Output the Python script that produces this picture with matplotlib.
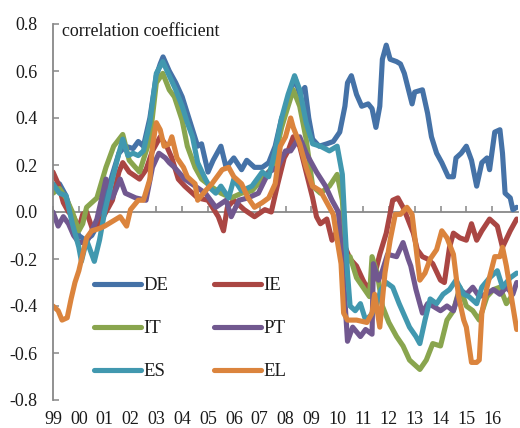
import numpy as np
import matplotlib
matplotlib.use("Agg")
import matplotlib.pyplot as plt

plt.rcParams['font.family'] = ['Liberation Serif', 'DejaVu Serif']

# ---- data (decimal year, correlation coefficient) ----
de_t = [1999.0, 1999.25, 1999.5, 1999.75, 2000.0, 2000.25, 2000.5, 2000.75, 2001.0, 2001.3, 2001.55, 2001.8,
        2002.1, 2002.3, 2002.5, 2002.75, 2003.0, 2003.15, 2003.26, 2003.5, 2003.75, 2004.0, 2004.2, 2004.4,
        2004.6, 2004.75, 2005.0, 2005.2, 2005.5, 2005.7, 2006.0, 2006.3, 2006.5, 2006.8, 2007.1, 2007.35,
        2007.6, 2007.85, 2008.0, 2008.2, 2008.37, 2008.55, 2008.75, 2008.9, 2009.05, 2009.3, 2009.6, 2009.85,
        2010.1, 2010.3, 2010.4, 2010.55, 2010.75, 2010.95, 2011.2, 2011.35, 2011.5, 2011.65, 2011.75, 2011.9,
        2012.05, 2012.3, 2012.45, 2012.6, 2012.9, 2013.0, 2013.3, 2013.5, 2013.65, 2013.85, 2014.05, 2014.3,
        2014.5, 2014.6, 2014.8, 2015.0, 2015.2, 2015.4, 2015.6, 2015.8, 2015.9, 2016.1, 2016.3, 2016.4,
        2016.5, 2016.7, 2016.8, 2016.95]
de_v = [0.10, 0.12, 0.07, -0.02, -0.10, -0.12, -0.10, -0.05, 0.05, 0.16, 0.25, 0.28,
        0.27, 0.30, 0.28, 0.40, 0.58, 0.63, 0.66, 0.60, 0.55, 0.49, 0.42, 0.35,
        0.28, 0.29, 0.17, 0.22, 0.28, 0.19, 0.23, 0.18, 0.22, 0.19, 0.19, 0.21,
        0.28, 0.40, 0.43, 0.52, 0.57, 0.50, 0.53, 0.40, 0.31, 0.28, 0.29, 0.30,
        0.34, 0.45, 0.55, 0.58, 0.50, 0.45, 0.46, 0.44, 0.36, 0.45, 0.65, 0.71,
        0.65, 0.64, 0.63, 0.59, 0.46, 0.51, 0.52, 0.42, 0.32, 0.25, 0.21, 0.15,
        0.15, 0.23, 0.25, 0.28, 0.22, 0.11, 0.21, 0.23, 0.18, 0.34, 0.35, 0.25,
        0.08, 0.06, 0.01, 0.02]

ie_t = [1999.0, 1999.2, 1999.4, 1999.6, 1999.8, 2000.0, 2000.15, 2000.3, 2000.55, 2000.9, 2001.3, 2001.55,
        2001.7, 2001.95, 2002.35, 2002.6, 2002.85, 2003.15, 2003.4, 2003.6, 2003.85, 2004.1, 2004.4, 2004.6,
        2005.0, 2005.4, 2005.6, 2005.75, 2006.0, 2006.4, 2006.8, 2007.2, 2007.45, 2007.7, 2007.95, 2008.1,
        2008.3, 2008.55, 2008.8, 2009.05, 2009.2, 2009.35, 2009.6, 2009.8, 2010.0, 2010.2, 2010.5, 2010.75,
        2011.0, 2011.15, 2011.4, 2011.65, 2011.9, 2012.15, 2012.35, 2012.55, 2012.7, 2012.95, 2013.1, 2013.3,
        2013.5, 2013.7, 2014.0, 2014.15, 2014.35, 2014.5, 2014.75, 2015.0, 2015.2, 2015.4, 2015.6, 2015.9,
        2016.2, 2016.4, 2016.7, 2016.95]
ie_v = [0.17, 0.12, 0.04, 0.00, -0.02, -0.07, -0.01, 0.00, -0.08, -0.03, 0.05, 0.17,
        0.21, 0.17, 0.14, 0.18, 0.26, 0.32, 0.28, 0.23, 0.14, 0.11, 0.08, 0.06,
        0.05, -0.02, -0.08, 0.02, 0.05, 0.01, -0.02, 0.01, 0.00, 0.12, 0.23, 0.26,
        0.32, 0.28, 0.17, 0.06, -0.02, -0.05, -0.03, -0.12, -0.08, -0.12, -0.20, -0.23,
        -0.29, -0.32, -0.29, -0.18, -0.09, 0.05, 0.06, 0.02, -0.02, -0.09, -0.16, -0.19,
        -0.20, -0.22, -0.29, -0.30, -0.15, -0.09, -0.11, -0.12, -0.05, -0.12, -0.08, -0.03,
        -0.06, -0.15, -0.08, -0.03]

it_t = [1999.0, 1999.25, 1999.5, 1999.75, 2000.0, 2000.15, 2000.3, 2000.5, 2000.7, 2001.05, 2001.35, 2001.7,
        2001.95, 2002.35, 2002.75, 2003.0, 2003.25, 2003.5, 2003.7, 2004.0, 2004.2, 2004.5, 2004.75, 2005.1,
        2005.5, 2005.9, 2006.3, 2006.7, 2007.1, 2007.5, 2007.85, 2008.1, 2008.3, 2008.55, 2008.8, 2009.05,
        2009.35, 2009.7, 2010.0, 2010.2, 2010.35, 2010.5, 2010.75, 2011.0, 2011.25, 2011.35, 2011.55, 2011.75,
        2012.0, 2012.3, 2012.55, 2012.8, 2013.2, 2013.45, 2013.7, 2014.0, 2014.25, 2014.5, 2014.75, 2015.0,
        2015.25, 2015.5, 2015.8, 2016.05, 2016.3, 2016.55, 2016.75]
it_v = [0.08, 0.10, 0.06, 0.00, -0.08, -0.05, 0.02, 0.04, 0.06, 0.19, 0.28, 0.33,
        0.22, 0.17, 0.31, 0.55, 0.59, 0.52, 0.49, 0.39, 0.28, 0.19, 0.14, 0.11,
        0.08, 0.06, 0.08, 0.09, 0.14, 0.19, 0.36, 0.45, 0.52, 0.45, 0.31, 0.11,
        0.08, 0.11, 0.16, 0.05, -0.22, -0.19, -0.28, -0.32, -0.36, -0.19, -0.26, -0.40,
        -0.47, -0.53, -0.57, -0.63, -0.67, -0.63, -0.56, -0.57, -0.46, -0.42, -0.32, -0.40,
        -0.42, -0.46, -0.36, -0.33, -0.32, -0.39, -0.36]

pt_t = [1999.0, 1999.2, 1999.4, 1999.6, 1999.8, 2000.0, 2000.3, 2000.5, 2000.7, 2000.95, 2001.05, 2001.3,
        2001.6, 2001.8, 2002.2, 2002.6, 2002.85, 2003.1, 2003.35, 2003.5, 2003.7, 2004.1, 2004.5, 2004.9,
        2005.3, 2005.7, 2005.9, 2006.2, 2006.55, 2006.95, 2007.35, 2007.7, 2008.0, 2008.2, 2008.55, 2008.8,
        2009.2, 2009.55, 2009.8, 2010.05, 2010.1, 2010.25, 2010.4, 2010.6, 2010.9, 2011.1, 2011.35, 2011.4,
        2011.6, 2011.75, 2011.95, 2012.3, 2012.55, 2012.75, 2012.85, 2013.05, 2013.3, 2013.5, 2013.7, 2014.0,
        2014.25, 2014.5, 2014.75, 2015.0, 2015.25, 2015.5, 2015.75, 2016.05, 2016.3, 2016.55, 2016.8, 2016.95]
pt_v = [0.00, -0.06, -0.02, -0.05, -0.10, -0.13, -0.13, -0.08, -0.03, 0.09, 0.14, 0.06,
        0.14, 0.08, 0.06, 0.05, 0.19, 0.25, 0.23, 0.21, 0.19, 0.14, 0.11, 0.08,
        0.02, 0.05, -0.02, 0.05, 0.06, 0.08, 0.17, 0.19, 0.26, 0.26, 0.32, 0.25,
        0.17, 0.11, 0.05, 0.00, -0.08, -0.29, -0.55, -0.49, -0.53, -0.50, -0.52, -0.22,
        -0.29, -0.25, -0.18, -0.19, -0.13, -0.20, -0.23, -0.33, -0.43, -0.39, -0.40, -0.42,
        -0.40, -0.42, -0.33, -0.35, -0.32, -0.36, -0.35, -0.33, -0.35, -0.32, -0.35, -0.30]

es_t = [1999.0, 1999.25, 1999.5, 1999.75, 2000.0, 2000.1, 2000.3, 2000.5, 2000.6, 2000.8, 2001.0, 2001.3,
        2001.55, 2001.7, 2001.9, 2002.1, 2002.3, 2002.5, 2002.75, 2003.0, 2003.25, 2003.5, 2003.75, 2004.0,
        2004.2, 2004.4, 2004.6, 2004.9, 2005.1, 2005.3, 2005.5, 2005.8, 2006.0, 2006.3, 2006.7, 2007.1,
        2007.35, 2007.6, 2007.85, 2008.1, 2008.35, 2008.55, 2008.8, 2009.05, 2009.35, 2009.7, 2010.0, 2010.2,
        2010.3, 2010.4, 2010.5, 2010.7, 2010.9, 2011.1, 2011.3, 2011.5, 2011.7, 2011.9, 2012.15, 2012.4,
        2012.6, 2012.8, 2013.05, 2013.2, 2013.4, 2013.6, 2013.85, 2014.1, 2014.35, 2014.6, 2014.9, 2015.1,
        2015.4, 2015.6, 2015.9, 2016.2, 2016.4, 2016.7, 2016.95]
es_v = [0.12, 0.08, 0.07, -0.05, -0.15, -0.21, -0.12, -0.18, -0.21, -0.12, 0.00, 0.14,
        0.25, 0.31, 0.24, 0.25, 0.24, 0.26, 0.38, 0.59, 0.64, 0.58, 0.52, 0.45,
        0.38, 0.32, 0.21, 0.14, 0.10, 0.08, 0.11, 0.06, 0.14, 0.09, 0.11, 0.17,
        0.15, 0.26, 0.40, 0.50, 0.58, 0.52, 0.38, 0.29, 0.28, 0.26, 0.28, 0.16,
        -0.06, -0.26, -0.40, -0.42, -0.39, -0.46, -0.44, -0.40, -0.33, -0.30, -0.32, -0.39,
        -0.44, -0.49, -0.53, -0.56, -0.46, -0.37, -0.39, -0.35, -0.33, -0.29, -0.35, -0.36,
        -0.39, -0.32, -0.28, -0.25, -0.32, -0.28, -0.26]

el_t = [1999.0, 1999.2, 1999.35, 1999.55, 1999.7, 1999.85, 2000.0, 2000.15, 2000.3, 2000.5, 2000.8, 2001.0,
        2001.3, 2001.6, 2001.85, 2002.0, 2002.3, 2002.5, 2002.75, 2002.85, 2003.0, 2003.15, 2003.3, 2003.5,
        2003.6, 2003.8, 2004.05, 2004.2, 2004.5, 2004.6, 2004.9, 2005.15, 2005.55, 2005.8, 2006.0, 2006.3,
        2006.55, 2006.8, 2007.1, 2007.35, 2007.6, 2007.8, 2008.0, 2008.2, 2008.3, 2008.55, 2008.8, 2009.05,
        2009.35, 2009.6, 2009.85, 2010.0, 2010.15, 2010.25, 2010.4, 2010.75, 2011.15, 2011.35, 2011.45, 2011.65,
        2011.85, 2012.05, 2012.25, 2012.45, 2012.7, 2012.9, 2013.05, 2013.2, 2013.4, 2013.6, 2013.85, 2014.05,
        2014.25, 2014.5, 2014.7, 2014.9, 2015.0, 2015.2, 2015.4, 2015.5, 2015.6, 2015.8, 2016.1, 2016.3,
        2016.4, 2016.55, 2016.8, 2016.95]
el_v = [-0.40, -0.42, -0.46, -0.45, -0.37, -0.30, -0.25, -0.18, -0.11, -0.08, -0.07, -0.06,
        -0.04, -0.02, -0.06, 0.01, 0.05, 0.05, 0.14, 0.28, 0.38, 0.35, 0.28, 0.29,
        0.32, 0.23, 0.19, 0.15, 0.12, 0.05, 0.09, 0.12, 0.18, 0.19, 0.15, 0.12,
        0.06, 0.02, 0.04, 0.06, 0.12, 0.28, 0.32, 0.40, 0.36, 0.29, 0.19, 0.11,
        0.09, 0.04, -0.01, -0.12, -0.22, -0.43, -0.46, -0.46, -0.47, -0.43, -0.35, -0.49,
        -0.26, -0.12, -0.01, -0.01, 0.02, -0.01, -0.15, -0.29, -0.26, -0.20, -0.16, -0.08,
        -0.11, -0.18, -0.36, -0.46, -0.49, -0.64, -0.64, -0.63, -0.43, -0.32, -0.19, -0.19,
        -0.15, -0.23, -0.40, -0.50]

series_names = ["DE", "IE", "IT", "PT", "ES", "EL"]
series_t = [de_t, ie_t, it_t, pt_t, es_t, el_t]
series_v = [de_v, ie_v, it_v, pt_v, es_v, el_v]
colors = ["#4572A7", "#AA4643", "#89A54E", "#71588F", "#4198AF", "#DB843D"]

years = list(range(1999, 2017))
year_labels = ["99", "00", "01", "02", "03", "04", "05", "06", "07", "08",
               "09", "10", "11", "12", "13", "14", "15", "16"]
yticks = [-0.8, -0.6, -0.4, -0.2, 0.0, 0.2, 0.4, 0.6, 0.8]

# ---- figure ----
fig = plt.figure(figsize=(5.2, 4.28), dpi=100)
ax = fig.add_axes([53/520, 1-400/428, 465/520, 376/428])

handles = []
for name, t, v, c in zip(series_names, series_t, series_v, colors):
    h, = ax.plot(t, v, color=c, lw=3.7, label=name, solid_capstyle='round', solid_joinstyle='round')
    handles.append(h)

ax.set_xlim(1999, 2017.0)
ax.set_ylim(-0.8, 0.8)

axis_col = "#888888"
txt_col = "#1a1a1a"
for s in ['top', 'right']:
    ax.spines[s].set_visible(False)
ax.spines['left'].set_color(axis_col)
ax.spines['left'].set_linewidth(1.3)
ax.spines['bottom'].set_position(('data', 0))
ax.spines['bottom'].set_color(axis_col)
ax.spines['bottom'].set_linewidth(1.3)
ax.spines['bottom'].set_zorder(0.5)

ax.set_yticks(yticks)
ax.set_yticklabels([f"{round(v, 1):.1f}".replace("-0.0", "0.0") for v in yticks])
ax.tick_params(axis='y', direction='in', length=4, width=1.1, color=axis_col,
               labelsize=13, pad=11, labelcolor=txt_col)

ax.set_xticks(years)
ax.tick_params(axis='x', direction='in', length=4, width=1.1, color=axis_col, labelbottom=False)

sec = ax.secondary_xaxis('bottom')
sec.spines['bottom'].set_visible(False)
sec.set_xticks(years)
sec.set_xticklabels(year_labels)
sec.tick_params(axis='x', length=0, pad=8, labelsize=13, labelcolor=txt_col)

ax.text((62-53)/465, (400-32)/376, "correlation coefficient", transform=ax.transAxes,
        fontsize=12.9, va='center', ha='left', color=txt_col)

# row-major legend order (DE IE / IT PT / ES EL) with column-filling legend
order = [0, 2, 4, 1, 3, 5]
leg = ax.legend([handles[i] for i in order], [series_names[i] for i in order],
                ncol=2, loc='upper left', bbox_to_anchor=((94-53)/465, (400-277)/376),
                frameon=False, fontsize=13.5, handlelength=2.5, handletextpad=0.12,
                columnspacing=2.45, labelspacing=1.38, borderpad=0, borderaxespad=0)
for t in leg.get_texts():
    t.set_color(txt_col)

fig.savefig("out.png", dpi=100)
